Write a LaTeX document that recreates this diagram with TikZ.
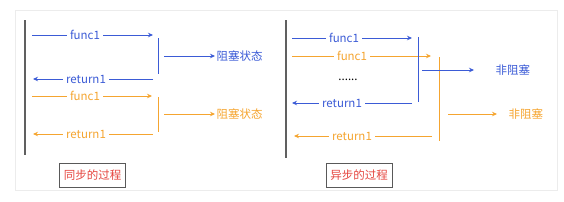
\documentclass[tikz,border=0pt]{standalone}
\usepackage{fontspec}
\setmainfont{Noto Sans CJK SC}
\usetikzlibrary{arrows.meta, positioning, calc}
\definecolor{callblue}{HTML}{3B5BD6}
\definecolor{callorange}{HTML}{F5A530}
\definecolor{titlered}{HTML}{E5453F}

\begin{document}
\begin{tikzpicture}[x=1pt, y=-1pt, font=\fontsize{11.5}{13}\selectfont,
  call/.style={-{Stealth[length=5pt, width=4.5pt]}, line width=0.75pt},
  bar/.style={line width=0.75pt},
  lbl/.style={fill=white, inner sep=3pt},
  state/.style={anchor=west, inner sep=1.5pt},
  thread/.style={gray!75!black, line width=1.6pt},
  title/.style={draw=gray!70!black, line width=0.8pt, text=titlered, minimum width=66pt, minimum height=24pt, inner sep=0pt}]

  \useasboundingbox (0,0) rectangle (564,201);
  \draw[gray!15, line width=0.8pt] (15,10) rectangle (557,190);

  % --- synchronous process ---
  \draw[thread] (25,20) -- (25,155);

  \coordinate (sa) at (32,35);  \coordinate (sb) at (153,35);
  \draw[call, callblue] (sa) -- (sb);
  \node[lbl, text=callblue] (sfunc) at (85,35) {func1};

  \draw[bar, callblue] (158,38) -- (158,74);
  \coordinate (sc) at (164,56);
  \node[state, text=callblue] (sblock) at (215,56) {阻塞状态};
  \draw[call, callblue] (sc) -- (sblock.west);

  \coordinate (sd) at (153,79); \coordinate (se) at (33,79);
  \draw[call, callblue] (sd) -- (se);
  \node[lbl, text=callblue] (sret) at (86,79) {return1};

  \coordinate (sf) at (32,96);  \coordinate (sg) at (152,96);
  \draw[call, callorange] (sf) -- (sg);
  \node[lbl, text=callorange] (sfunc2) at (85,96) {func1};

  \draw[bar, callorange] (158,97) -- (158,132);
  \coordinate (sh) at (164,114);
  \node[state, text=callorange] (sblock2) at (215,114) {阻塞状态};
  \draw[call, callorange] (sh) -- (sblock2.west);

  \coordinate (si) at (153,134); \coordinate (sj) at (33,134);
  \draw[call, callorange] (si) -- (sj);
  \node[lbl, text=callorange] (sret2) at (86,134) {return1};

  \node[title] (synctitle) at (92.5,175) {同步的过程};

  % --- asynchronous process ---
  \draw[thread] (286,20) -- (286,158);

  \coordinate (aa) at (292,38); \coordinate (ab) at (412,38);
  \draw[call, callblue] (aa) -- (ab);
  \node[lbl, text=callblue] (afunc) at (344,38) {func1};

  \coordinate (ac) at (292,56); \coordinate (ad) at (431,56);
  \draw[call, callorange] (ac) -- (ad);
  \node[lbl, text=callorange] (afunc2) at (352,56) {func1};

  \node (dots) at (348,80) {......};

  \draw[bar, callorange] (439,57) -- (439,141);
  \draw[bar, callblue] (418,37) -- (418,102);
  \coordinate (ae) at (422,70);
  \node[state, text=callblue] (anon) at (494,70) {非阻塞};
  \draw[call, callblue] (ae) -- ++(52,0);

  \coordinate (af) at (412,103); \coordinate (ag) at (292,103);
  \draw[call, callblue] (af) -- (ag);
  \node[lbl, text=callblue] (aret) at (342,103) {return1};

  \coordinate (ah) at (448,114);
  \node[state, text=callorange] (anon2) at (507,114) {非阻塞};
  \draw[call, callorange] (ah) -- ++(49,0);

  \coordinate (ai) at (432,136); \coordinate (aj) at (294,136);
  \draw[call, callorange] (ai) -- (aj);
  \node[lbl, text=callorange] (aret2) at (352,136) {return1};

  \node[title] (asynctitle) at (359,175.5) {异步的过程};
\end{tikzpicture}
\end{document}
